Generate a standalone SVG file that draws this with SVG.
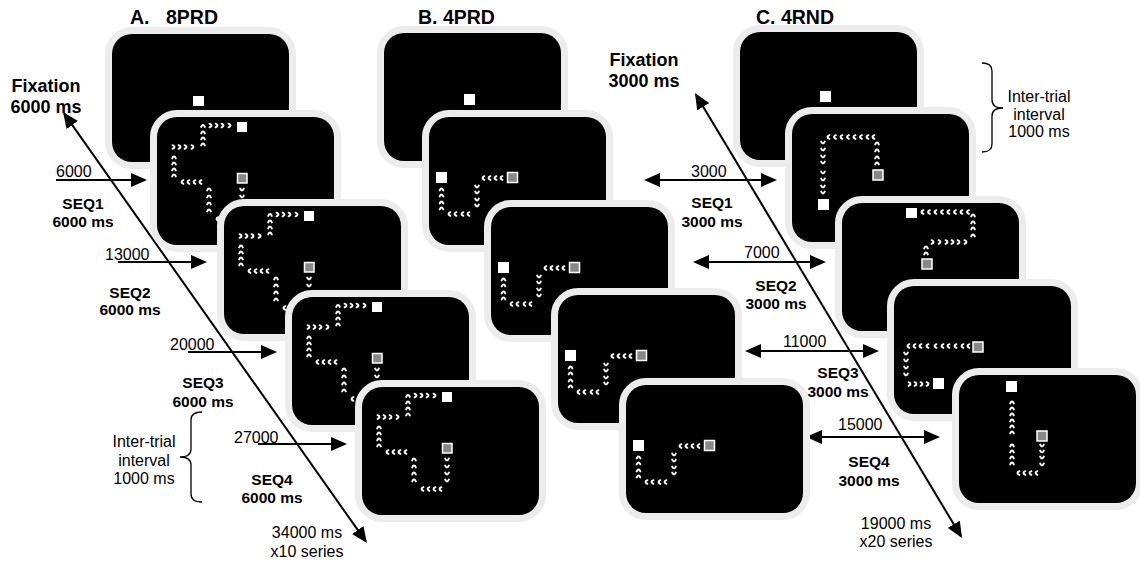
<svg xmlns="http://www.w3.org/2000/svg" width="1140" height="562" viewBox="0 0 1140 562">
<style>
.scr{fill:#000;stroke:#ececec;stroke-width:14;paint-order:stroke}
.wq{fill:#fff}
.gq{fill:#888;stroke:#fff;stroke-width:1.5}
.t{font-family:"Liberation Sans",Arial,sans-serif;fill:#000}
.b{font-weight:bold}
.s19{font-size:19.5px}
.s18{font-size:18px}
.s15{font-size:15.5px}
.s16{font-size:16px}
.ar{stroke:#000;stroke-width:2;fill:none;marker-end:url(#ah)}
.dar{marker-start:url(#ah)}
.br{fill:none;stroke:#000;stroke-width:1.3}
</style>
<defs>
<marker id="ah" viewBox="0 0 16 14" markerWidth="16" markerHeight="14" refX="14" refY="7" orient="auto-start-reverse" markerUnits="userSpaceOnUse"><path d="M0,0L16,7L0,14z" fill="#000"/></marker>
<path id="u" d="M-1.8,1.4Q0,-2.4 1.8,1.4" fill="none" stroke="#fff" stroke-width="2" stroke-linecap="round"/>
<path id="d" d="M-1.8,-1.4Q0,2.4 1.8,-1.4" fill="none" stroke="#fff" stroke-width="2" stroke-linecap="round"/>
<path id="r" d="M-1.4,-1.8Q2.4,0 -1.4,1.8" fill="none" stroke="#fff" stroke-width="2" stroke-linecap="round"/>
<path id="l" d="M1.4,-1.8Q-2.4,0 1.4,1.8" fill="none" stroke="#fff" stroke-width="2" stroke-linecap="round"/>
<g id="patA">
<rect class="wq" x="80" y="5" width="10" height="10"/>
<rect class="gq" x="80.5" y="56.5" width="9.5" height="9.5"/>
<use href="#u" x="46" y="8.5"/><use href="#r" x="54" y="8.5"/><use href="#r" x="60" y="8.5"/><use href="#r" x="66" y="8.5"/><use href="#r" x="73" y="8.5"/>
<use href="#u" x="46" y="15"/><use href="#u" x="46" y="21"/><use href="#u" x="46" y="27"/>
<use href="#r" x="17" y="30"/><use href="#r" x="23" y="30"/><use href="#r" x="29" y="30"/><use href="#r" x="36" y="30"/>
<use href="#u" x="17" y="40"/><use href="#u" x="17" y="46"/><use href="#u" x="17" y="52"/><use href="#u" x="17" y="58"/>
<use href="#l" x="25" y="65"/><use href="#l" x="31" y="65"/><use href="#l" x="37" y="65"/><use href="#l" x="43" y="65"/>
<use href="#u" x="52" y="72"/><use href="#u" x="52" y="79"/><use href="#u" x="52" y="86"/><use href="#u" x="52" y="93"/>
<use href="#l" x="60" y="102"/><use href="#l" x="66" y="102"/><use href="#l" x="72" y="102"/><use href="#l" x="78" y="102"/>
<use href="#d" x="85" y="73"/><use href="#d" x="85" y="80"/><use href="#d" x="85" y="87"/><use href="#d" x="85" y="94"/>
</g>
<g id="patB">
<rect class="wq" x="7" y="55" width="11" height="11"/>
<rect class="gq" x="78.5" y="55.5" width="10" height="10"/>
<use href="#l" x="54" y="61"/><use href="#l" x="60" y="61"/><use href="#l" x="66" y="61"/><use href="#l" x="72" y="61"/>
<use href="#u" x="12.5" y="72"/><use href="#u" x="12.5" y="78"/><use href="#u" x="12.5" y="85"/><use href="#u" x="12.5" y="91"/>
<use href="#l" x="20" y="97"/><use href="#l" x="26" y="97"/><use href="#l" x="33" y="97"/><use href="#l" x="39" y="97"/>
<use href="#d" x="48" y="70"/><use href="#d" x="48" y="76"/><use href="#d" x="48" y="83"/><use href="#d" x="48" y="89"/>
</g>
</defs>
<rect width="1140" height="562" fill="#fff"/>

<g id="connectors">
<line class="ar" x1="56" y1="180" x2="145" y2="180"/>
<line class="ar" x1="118" y1="262" x2="205" y2="262"/>
<line class="ar" x1="188" y1="352" x2="275" y2="352"/>
<line class="ar" x1="258" y1="444" x2="345" y2="444"/>
<line class="ar dar" x1="64.2" y1="113.6" x2="365.8" y2="541.4"/>
<line class="ar dar" x1="696" y1="94.7" x2="961" y2="536.3"/>
<line class="ar dar" x1="646" y1="180" x2="775" y2="180"/>
<line class="ar dar" x1="695" y1="262" x2="824" y2="262"/>
<line class="ar dar" x1="747" y1="351" x2="877" y2="351"/>
<line class="ar dar" x1="808" y1="437" x2="938" y2="437"/>
<path class="br" d="M202,412Q191,412 191,420V449Q191,457 180,457Q191,457 191,465V494Q191,502 202,502"/>
<path class="br" d="M982,63Q992,63 992,71V100Q992,108 1003,108Q992,108 992,116V144Q992,152 982,152"/>
</g>

<g id="screenA0" transform="translate(112,34)"><rect class="scr" width="177" height="128" rx="20"/><rect class="wq" x="81" y="62" width="11" height="10"/></g>
<g id="screenA1" transform="translate(157,117)"><rect class="scr" width="177" height="128" rx="20"/><use href="#patA"/></g>
<g id="screenA2" transform="translate(224,206)"><rect class="scr" width="177" height="128" rx="20"/><use href="#patA"/></g>
<g id="screenA3" transform="translate(292,297)"><rect class="scr" width="177" height="128" rx="20"/><use href="#patA"/></g>
<g id="screenA4" transform="translate(362,387)"><rect class="scr" width="177" height="128" rx="20"/><use href="#patA"/></g>

<g id="screenB0" transform="translate(384,33)"><rect class="scr" width="177" height="128" rx="20"/><rect class="wq" x="80" y="61" width="11" height="11"/></g>
<g id="screenB1" transform="translate(429,117)"><rect class="scr" width="177" height="128" rx="20"/><use href="#patB"/></g>
<g id="screenB2" transform="translate(491,207)"><rect class="scr" width="177" height="128" rx="20"/><use href="#patB"/></g>
<g id="screenB3" transform="translate(558,295)"><rect class="scr" width="177" height="128" rx="20"/><use href="#patB"/></g>
<g id="screenB4" transform="translate(626,385)"><rect class="scr" width="177" height="128" rx="20"/><use href="#patB"/></g>

<g id="screenC0" transform="translate(740,32)"><rect class="scr" width="177" height="128" rx="20"/><rect class="wq" x="80" y="59" width="11" height="11"/></g>
<g id="screenC1" transform="translate(792,114)"><rect class="scr" width="177" height="128" rx="20"/>
<use href="#l" x="36" y="23"/><use href="#l" x="42.5" y="23"/><use href="#l" x="49" y="23"/><use href="#l" x="55.5" y="23"/><use href="#l" x="62" y="23"/><use href="#l" x="68.5" y="23"/><use href="#l" x="75" y="23"/><use href="#l" x="81" y="23"/>
<use href="#d" x="31" y="29"/><use href="#d" x="31" y="36"/><use href="#d" x="31" y="43"/><use href="#d" x="31" y="49"/><use href="#d" x="31" y="59"/><use href="#d" x="31" y="66"/><use href="#d" x="31" y="73"/><use href="#d" x="31" y="79"/>
<use href="#u" x="85" y="29"/><use href="#u" x="85" y="36"/><use href="#u" x="85" y="43"/><use href="#u" x="85" y="49"/>
<rect class="gq" x="81" y="56" width="10" height="10"/><rect class="wq" x="26" y="85" width="11" height="11"/></g>
<g id="screenC2" transform="translate(842,203)"><rect class="scr" width="177" height="128" rx="20"/>
<rect class="wq" x="64" y="5" width="11" height="10"/>
<use href="#l" x="80" y="9"/><use href="#l" x="86.5" y="9"/><use href="#l" x="93" y="9"/><use href="#l" x="99.5" y="9"/><use href="#l" x="106" y="9"/><use href="#l" x="112.5" y="9"/><use href="#l" x="119" y="9"/><use href="#l" x="125.5" y="9"/>
<use href="#u" x="131" y="12"/><use href="#u" x="131" y="19"/><use href="#u" x="131" y="25"/><use href="#u" x="131" y="32"/>
<use href="#r" x="91" y="39"/><use href="#r" x="98" y="39"/><use href="#r" x="105" y="39"/><use href="#r" x="111" y="39"/><use href="#r" x="117" y="39"/><use href="#r" x="124" y="39"/>
<use href="#u" x="84" y="44"/><use href="#u" x="84" y="50"/>
<rect class="gq" x="80" y="56" width="10" height="10"/></g>
<g id="screenC3" transform="translate(894,286)"><rect class="scr" width="177" height="128" rx="20"/>
<use href="#l" x="14" y="60"/><use href="#l" x="20" y="60"/><use href="#l" x="26" y="60"/><use href="#l" x="33" y="60"/><use href="#l" x="41" y="60"/><use href="#l" x="48" y="60"/><use href="#l" x="54" y="60"/><use href="#l" x="61" y="60"/><use href="#l" x="68" y="60"/><use href="#l" x="74" y="60"/>
<rect class="gq" x="79" y="56" width="10" height="10"/>
<use href="#d" x="12" y="68"/><use href="#d" x="12" y="75"/><use href="#d" x="12" y="82"/><use href="#d" x="12" y="89"/>
<use href="#r" x="16" y="98"/><use href="#r" x="22" y="98"/><use href="#r" x="28" y="98"/><use href="#r" x="34" y="98"/>
<rect class="wq" x="39" y="92" width="11" height="11"/></g>
<g id="screenC4" transform="translate(959,375)"><rect class="scr" width="177" height="128" rx="20"/>
<rect class="wq" x="47" y="6" width="11" height="11"/>
<use href="#u" x="53" y="27"/><use href="#u" x="53" y="33"/><use href="#u" x="53" y="39"/><use href="#u" x="53" y="45"/><use href="#u" x="53" y="51"/><use href="#u" x="53" y="57"/><use href="#u" x="53" y="70"/><use href="#u" x="53" y="76"/><use href="#u" x="53" y="82"/><use href="#u" x="53" y="88"/>
<use href="#l" x="59" y="98"/><use href="#l" x="65" y="98"/><use href="#l" x="71" y="98"/><use href="#l" x="77" y="98"/>
<use href="#d" x="83" y="71"/><use href="#d" x="83" y="77"/><use href="#d" x="83" y="83"/><use href="#d" x="83" y="90"/>
<rect class="gq" x="78" y="56" width="10" height="10"/></g>

<g id="labels">
<text class="t b s19" y="24"><tspan x="130">A.</tspan><tspan x="166">8PRD</tspan></text>
<text class="t b s19" x="418" y="24">B. 4PRD</text>
<text class="t b s19" x="756" y="24">C. 4RND</text>
<text class="t b s18" text-anchor="middle"><tspan x="46" y="92">Fixation</tspan><tspan x="46" y="113">6000 ms</tspan></text>
<text class="t b s18" text-anchor="middle"><tspan x="644" y="66">Fixation</tspan><tspan x="644" y="87">3000 ms</tspan></text>
<text class="t s16" x="56" y="177">6000</text>
<text class="t s16" x="105" y="260">13000</text>
<text class="t s16" x="170" y="350">20000</text>
<text class="t s16" x="234" y="443">27000</text>
<text class="t s16" x="691" y="177">3000</text>
<text class="t s16" x="744" y="258">7000</text>
<text class="t s16" x="783" y="347">11000</text>
<text class="t s16" x="838" y="430">15000</text>
<text class="t b s15" text-anchor="middle"><tspan x="83" y="209">SEQ1</tspan><tspan x="83" y="227">6000 ms</tspan></text>
<text class="t b s15" text-anchor="middle"><tspan x="130" y="298">SEQ2</tspan><tspan x="130" y="315">6000 ms</tspan></text>
<text class="t b s15" text-anchor="middle"><tspan x="203" y="388">SEQ3</tspan><tspan x="203" y="407">6000 ms</tspan></text>
<text class="t b s15" text-anchor="middle"><tspan x="272" y="485">SEQ4</tspan><tspan x="272" y="503">6000 ms</tspan></text>
<text class="t b s15" text-anchor="middle"><tspan x="712" y="208">SEQ1</tspan><tspan x="712" y="227">3000 ms</tspan></text>
<text class="t b s15" text-anchor="middle"><tspan x="776" y="291">SEQ2</tspan><tspan x="776" y="309">3000 ms</tspan></text>
<text class="t b s15" text-anchor="middle"><tspan x="838" y="378">SEQ3</tspan><tspan x="838" y="397">3000 ms</tspan></text>
<text class="t b s15" text-anchor="middle"><tspan x="869" y="467">SEQ4</tspan><tspan x="869" y="486">3000 ms</tspan></text>
<text class="t s16" text-anchor="middle"><tspan x="144" y="447">Inter-trial</tspan><tspan x="144" y="466">interval</tspan><tspan x="144" y="484">1000 ms</tspan></text>
<text class="t s16" text-anchor="middle"><tspan x="1039" y="102">Inter-trial</tspan><tspan x="1039" y="120">interval</tspan><tspan x="1039" y="137">1000 ms</tspan></text>
<text class="t s16" text-anchor="middle"><tspan x="307" y="538">34000 ms</tspan><tspan x="307" y="557">x10 series</tspan></text>
<text class="t s16" text-anchor="middle"><tspan x="896" y="529">19000 ms</tspan><tspan x="896" y="547">x20 series</tspan></text>
</g>
</svg>
